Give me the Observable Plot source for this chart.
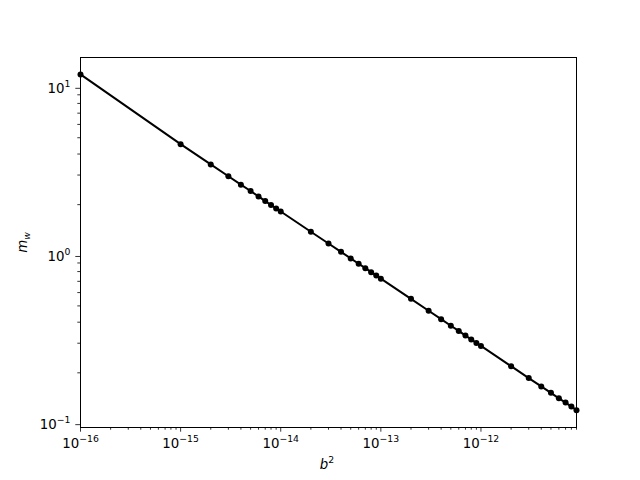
<!DOCTYPE html>
<html><head><meta charset="utf-8">
<script src="https://cdn.jsdelivr.net/npm/d3@7"></script>
<script src="https://cdn.jsdelivr.net/npm/@observablehq/plot@0.6"></script>
<style>body{margin:0;background:#fff} svg{display:block;overflow:visible}</style>
</head><body><div id="chart"></div>
<script>
// b^2 values (x) and m_w values (y)
const b2 = [1e-16,
  1e-15,2e-15,3e-15,4e-15,5e-15,6e-15,7e-15,8e-15,9e-15,
  1e-14,2e-14,3e-14,4e-14,5e-14,6e-14,7e-14,8e-14,9e-14,
  1e-13,2e-13,3e-13,4e-13,5e-13,6e-13,7e-13,8e-13,9e-13,
  1e-12,2e-12,3e-12,4e-12,5e-12,6e-12,7e-12,8e-12,9e-12];
const mw = [11.9,
  4.58,3.47,2.95,2.63,2.41,2.24,2.10,1.99,1.90,
  1.82,1.38,1.175,1.048,0.958,0.891,0.838,0.794,0.757,
  0.726,0.551,0.468,0.417,0.381,0.355,0.333,0.316,0.301,
  0.289,0.219,0.186,0.166,0.152,0.141,0.133,0.126,0.120];
const xMajorTicks = [1e-16,1e-15,1e-14,1e-13,1e-12];
const xTickLabels = ["10^\u221216","10^\u221215","10^\u221214","10^\u221213","10^\u221212"];
const yMajorTicks = [0.1,1,10];
const yTickLabels = ["10^\u22121","10^0","10^1"];

const xMinorTicks = [];
for (let e = -16; e <= -12; e++) for (let k = 2; k <= 9; k++) xMinorTicks.push(k * Math.pow(10, e));
const yMinorTicks = [];
for (let e = -2; e <= 1; e++) for (let k = 2; k <= 9; k++) {
  const v = k * Math.pow(10, e);
  if (v > 0.0946 && v < 15.0) yMinorTicks.push(v);
}

const data = b2.map((x, i) => ({x, y: mw[i]}));

const plot = Plot.plot({
  width: 640, height: 480,
  marginLeft: 80, marginRight: 64, marginTop: 57, marginBottom: 53,
  style: {fontFamily: "DejaVu Sans", fontSize: "13.33px", color: "black", background: "white"},
  x: {type: "log", domain: [1e-16, 9e-12]},
  y: {type: "log", domain: [0.0946, 15.0]},
  marks: [
    Plot.axisX({ticks: xMinorTicks, tickSize: 2.7, tickFormat: () => "", label: null, strokeWidth: 0.8}),
    Plot.axisX({ticks: xMajorTicks, tickSize: 4.7, tickPadding: 6.8, tickFormat: (d) => xTickLabels[xMajorTicks.indexOf(d)], label: null, strokeWidth: 0.8}),
    Plot.axisY({ticks: yMinorTicks, tickSize: 2.7, tickFormat: () => "", label: null, strokeWidth: 0.8}),
    Plot.axisY({ticks: yMajorTicks, tickSize: 4.7, tickPadding: 5.3, dy: 1.2, tickFormat: (d) => yTickLabels[yMajorTicks.indexOf(d)], label: null, strokeWidth: 0.8}),
    Plot.frame({stroke: "black", strokeWidth: 1}),
    Plot.line(data, {x: "x", y: "y", stroke: "black", strokeWidth: 2}),
    Plot.dot(data, {x: "x", y: "y", r: 3, fill: "black", stroke: "none"})
  ]
});

const svg = d3.select(plot);
// render "10^n" tick labels with real superscripts
svg.selectAll("text").each(function () {
  const t = this.textContent;
  const m = t.match(/^10\^(.+)$/);
  if (m) {
    const el = d3.select(this);
    el.text("");
    el.append("tspan").text("10");
    el.append("tspan").attr("font-size", "9.3px").attr("dy", "-6").text(m[1]);
  }
});

const xl = svg.append("text").attr("x", 327).attr("y", 468.5).attr("text-anchor", "middle")
  .attr("font-family", "DejaVu Sans").attr("font-size", "13.33px").attr("fill", "black");
xl.append("tspan").attr("font-style", "italic").text("b");
xl.append("tspan").attr("font-size", "9.3px").attr("dy", "-5.5").text("2");

const yl = svg.append("text").attr("transform", "translate(27,242.5) rotate(-90)").attr("text-anchor", "middle")
  .attr("font-family", "DejaVu Sans").attr("font-size", "13.33px").attr("fill", "black");
yl.append("tspan").attr("font-style", "italic").text("m");
yl.append("tspan").attr("font-style", "italic").attr("font-size", "9.3px").attr("dy", "3").text("w");

document.getElementById("chart").appendChild(plot);
</script>
</body></html>
